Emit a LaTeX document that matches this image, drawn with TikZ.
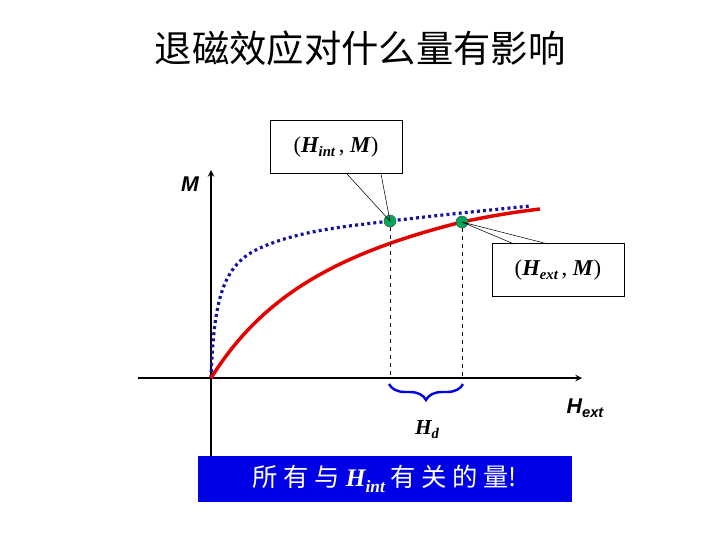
\documentclass[tikz,border=0pt]{standalone}
\usepackage{fontspec}
\newfontfamily\cjk{Noto Sans CJK SC}
\setmainfont{Liberation Serif}
\setsansfont{Liberation Sans}
\usetikzlibrary{decorations.pathreplacing}
\definecolor{bbox}{RGB}{0,0,230}
\definecolor{dotblue}{RGB}{20,20,160}
\tikzset{lbl/.style={draw,fill=white,minimum width=99pt,minimum height=40pt,inner sep=0pt,font=\fontsize{17}{19}\selectfont},
pt/.style={circle,draw=black!70,fill=teal!70!green,minimum size=9pt,inner sep=0pt}}
\begin{document}
\begin{tikzpicture}[x=0.75pt,y=-0.75pt]
\useasboundingbox (0,0) rectangle (720,540);
\node (title) at (360,48) {\cjk\fontsize{28}{30}\selectfont 退磁效应对什么量有影响};
\coordinate (o) at (211,378);
\coordinate (ytop) at (211,170);
\coordinate (ybot) at (211,456);
\coordinate (xl) at (138,378);
\coordinate (xr) at (582,378);
\draw[line width=1.2pt] (ybot) -- (o);
\draw[line width=1.2pt,-stealth] (o) -- (ytop);
\draw[line width=1.2pt,-stealth] (xl) -- (xr);
\node (M) at (190,184) {\sffamily\bfseries\itshape\fontsize{16}{18}\selectfont M};
\node (Hext) at (585,408) {\sffamily\bfseries\itshape\fontsize{16}{18}\selectfont H\raisebox{-3pt}{\fontsize{11}{12}\selectfont ext}};
\draw[dotblue,line width=2.4pt,dash pattern=on 2.2pt off 2.4pt] (o) .. controls (214,300) and (222,265) .. (260,248) .. controls (300,230) and (350,226) .. (390,221) .. controls (440,215) and (490,210) .. (530,206);
\draw[red!90!black,line width=2.6pt] (o) .. controls (260,300) and (330,255) .. (462,222) .. controls (490,216) and (515,212) .. (540,209);
\node[pt] (p1) at (390,221) {};
\node[pt] (p2) at (462,222) {};
\coordinate (d1) at (390,378);
\coordinate (d2) at (462,378);
\draw[dashed,thin] (p1) -- (d1);
\draw[dashed,thin] (p2) -- (d2);
\draw[bbox,line width=1.8pt,decorate,decoration={brace,amplitude=12pt,mirror}] (389,384) -- (463,384);
\node (Hd) at (427,430) {\fontsize{16}{18}\selectfont\bfseries\itshape H\raisebox{-3pt}{\fontsize{11}{12}\selectfont d}};
\node[lbl] (b1) at (336,147) {(\textbf{\textit{H\raisebox{-3pt}{\fontsize{11}{12}\selectfont int}}}\,,\ \textbf{\textit{M}})};
\node[lbl] (b2) at (558,270) {(\textbf{\textit{H\raisebox{-3pt}{\fontsize{11}{12}\selectfont ext}}}\,,\ \textbf{\textit{M}})};
\coordinate (c1) at (347,174); \coordinate (c2) at (381,174);
\coordinate (c3) at (514,244); \coordinate (c4) at (548,244);
\draw[thin] (c1) -- (p1.center) -- (c2);
\draw[thin] (c3) -- (p2.center) -- (c4);
\node[fill=bbox,text=white,minimum width=280pt,minimum height=34pt,inner sep=0pt] (note) at (385,479)
 {\fontsize{19}{22}\selectfont\cjk 所\ 有\ 与\ {\rmfamily\bfseries\itshape H\raisebox{-4pt}{\fontsize{13}{14}\selectfont int}}\ 有\ 关\ 的\ 量!};
\end{tikzpicture}
\end{document}
